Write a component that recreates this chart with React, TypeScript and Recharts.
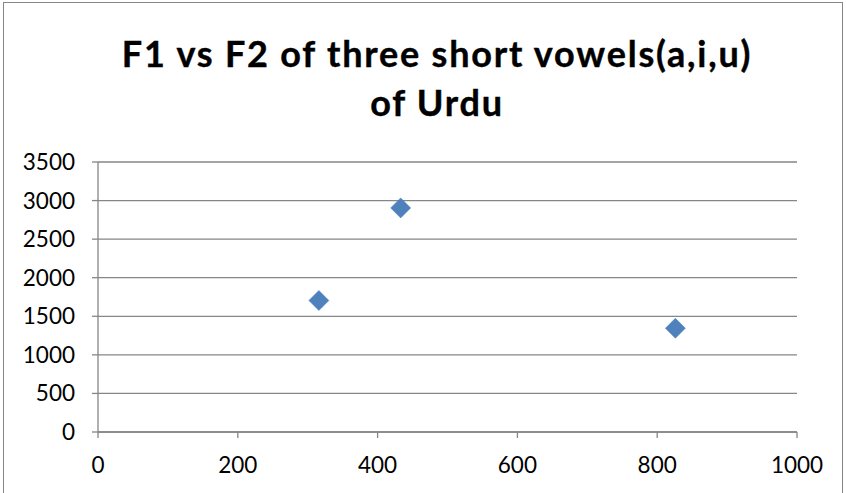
import React from "react";
import { ScatterChart, Scatter, XAxis, YAxis, CartesianGrid } from "recharts";

const f1Values = [316, 433, 826];
const f2Values = [1705, 2905, 1345];
const xTicks = [0, 200, 400, 600, 800, 1000];
const yTicks = [0, 500, 1000, 1500, 2000, 2500, 3000, 3500];
const titleLines = ["F1 vs F2 of three short vowels(a,i,u)", "of Urdu"];

const points = f1Values.map((x, i) => ({ x, y: f2Values[i] }));

const FONT = "Lato, 'Open Sans', sans-serif";
const AXIS = "#868686";

const Diamond = (props: any) => {
  const { cx, cy } = props;
  const r = 10;
  return (
    <polygon
      points={`${cx},${cy - r} ${cx + r},${cy} ${cx},${cy + r} ${cx - r},${cy}`}
      fill="#4F81BD"
      stroke="#4A7EBB"
      strokeWidth={0.5}
    />
  );
};

export default function App() {
  return (
    <div
      style={{
        position: "absolute",
        left: 0,
        top: 0,
        width: 847,
        height: 493,
        overflow: "hidden",
        background: "#fff",
        fontFamily: FONT,
      }}
    >
      <div
        style={{
          position: "absolute",
          left: 3,
          top: 2,
          width: 840,
          height: 500,
          border: `1px solid ${AXIS}`,
          boxSizing: "border-box",
        }}
      />
      <svg
        width={847}
        height={140}
        style={{ position: "absolute", left: 0, top: 0 }}
      >
        {titleLines.map((t, i) => (
          <text
            key={t}
            x={437}
            y={67 + i * 49}
            textAnchor="middle"
            fontFamily={FONT}
            fontWeight={700}
            fontSize={36}
            letterSpacing={1.8}
            fill="#000"
            stroke="#000"
            strokeWidth={0.4}
          >
            {t}
          </text>
        ))}
      </svg>
      <div style={{ position: "absolute", left: 0, top: 0 }}>
        <ScatterChart
          width={847}
          height={493}
          margin={{ top: 162, right: 50, bottom: 21, left: 0 }}
        >
          <CartesianGrid horizontal vertical={false} stroke={AXIS} strokeWidth={1.3} />
          <XAxis
            type="number"
            dataKey="x"
            domain={[0, 1000]}
            ticks={xTicks}
            interval={0}
            height={40}
            tickSize={6}
            tickMargin={19}
            axisLine={{ stroke: AXIS, strokeWidth: 1.3 }}
            tickLine={{ stroke: AXIS, strokeWidth: 1.3 }}
            tick={{ fill: "#000", fontSize: 22.5, fontFamily: FONT }}
          />
          <YAxis
            type="number"
            dataKey="y"
            domain={[0, 3500]}
            ticks={yTicks}
            interval={0}
            width={98}
            tickSize={6}
            tickMargin={17}
            axisLine={{ stroke: AXIS, strokeWidth: 1.3 }}
            tickLine={{ stroke: AXIS, strokeWidth: 1.3 }}
            tick={{ fill: "#000", fontSize: 22.5, fontFamily: FONT }}
          />
          <Scatter data={points} shape={<Diamond />} isAnimationActive={false} />
        </ScatterChart>
      </div>
    </div>
  );
}
